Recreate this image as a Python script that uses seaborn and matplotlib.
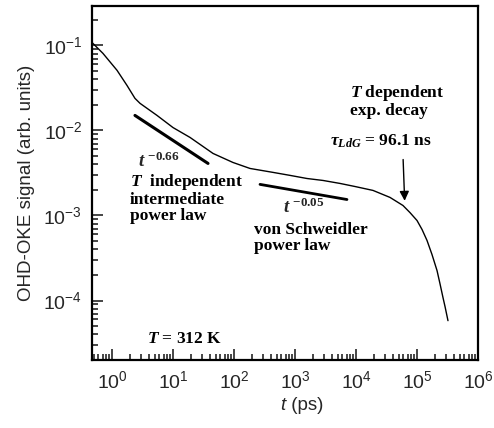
import numpy as np
import matplotlib
matplotlib.use('Agg')
import matplotlib.pyplot as plt
import seaborn as sns

# OHD-OKE decay (t in ps, signal in arb. units)
t_ps = [0.47, 0.71, 1.21, 1.76, 2.38, 2.88, 5.47, 10.0, 19.0, 45.3, 96.0, 183.0,
        436.0, 828.0, 1573.0, 2880.0, 5470.0, 9630.0, 19000.0, 36100.0, 58900.0,
        76800.0, 100000.0, 121000.0, 146000.0, 176000.0, 213000.0, 238000.0,
        267000.0, 288000.0, 322000.0]
signal = [0.108, 0.0805, 0.0508, 0.0338, 0.0238, 0.0208, 0.0150, 0.0108, 0.00827,
          0.00536, 0.00420, 0.00357, 0.00321, 0.00296, 0.00272, 0.00258, 0.00238,
          0.00219, 0.00197, 0.00163, 0.00131, 0.00108, 0.000873, 0.000684,
          0.000508, 0.000348, 0.000225, 0.000158, 0.000108, 8.5e-5, 5.8e-5]

# guide lines for the two power laws
fast_t = [2.38, 37.5]
fast_y = [0.0150, 0.00409]
vs_t = [267.0, 7110.0]
vs_y = [0.00232, 0.00154]

sns.set_style('ticks')
plt.rcParams['font.family'] = ['Liberation Sans', 'DejaVu Sans']
plt.rcParams['axes.unicode_minus'] = False
plt.rcParams['mathtext.fontset'] = 'custom'
plt.rcParams['mathtext.rm'] = 'Liberation Serif:bold'
plt.rcParams['mathtext.it'] = 'Liberation Serif:italic:bold'
plt.rcParams['mathtext.bf'] = 'Liberation Serif:bold'

fig = plt.figure(figsize=(4.94, 4.28), dpi=100)
ax = fig.add_axes([92/494, 1-360/428, 386/494, 354/428])

sns.lineplot(x=t_ps, y=signal, ax=ax, color='k', lw=1.0, sort=False, estimator=None)
sns.lineplot(x=fast_t, y=fast_y, ax=ax, color='k', lw=2.2, sort=False, estimator=None)
sns.lineplot(x=vs_t, y=vs_y, ax=ax, color='k', lw=2.0, sort=False, estimator=None)

ax.set_xscale('log')
ax.set_yscale('log')
ax.set_xlim(0.47, 1e6)
ax.set_ylim(2e-5, 0.29)
ax.set_xticks([1e0, 1e1, 1e2, 1e3, 1e4, 1e5, 1e6])
ax.set_yticks([1e-4, 1e-3, 1e-2, 1e-1])

ax.tick_params(which='both', direction='in', top=False, right=False, width=1.2)
ax.tick_params(which='major', length=8, labelsize=14)
ax.tick_params(axis='x', which='major', pad=7)
ax.tick_params(axis='y', which='major', pad=7)
ax.tick_params(which='minor', length=4)
for s in ax.spines.values():
    s.set_linewidth(1.6)
    s.set_color('k')

# x label: italic t plus upright "(ps)"
fig.text(0.577, 1-405/428, 't', fontsize=13.5, style='italic', ha='right', va='center')
fig.text(0.579, 1-405/428, ' (ps)', fontsize=13.5, ha='left', va='center')
ax.set_ylabel('OHD-OKE signal (arb. units)', fontsize=13.5, labelpad=6)

serif = dict(family='Liberation Serif', weight='bold', fontsize=12.5, color='k')
ax.text(2.67, 0.00367, '$t^{\\ \\mathrm{-0.66}}$', fontsize=13.5, va='baseline', ha='left')
ax.text(1.97, 0.00321, '$T$  independent\nintermediate\npower law', va='top', ha='left',
        linespacing=1.0, **serif)
ax.text(635, 0.00108, '$t^{\\ \\mathrm{-0.05}}$', fontsize=13.5, va='baseline', ha='left')
ax.text(213, 0.00083, 'von Schweidler\npower law', va='top', ha='left', linespacing=1.0, **serif)
ax.text(7980, 0.0357, '$T$ dependent\nexp. decay', va='top', ha='left', linespacing=1.0, **serif)
ax.text(3750, 0.0095, '$\\tau_{LdG}$ = 96.1 ns', va='top', ha='left', **serif)
ax.text(3.75, 3.2e-5, '$T$ = 312 K', va='baseline', ha='left', **serif)

ax.annotate('', xy=(6.3e4, 1.38e-3), xytext=(5.9e4, 4.9e-3),
            arrowprops=dict(arrowstyle='-|>', color='k', lw=1.0, mutation_scale=14))

plt.savefig('out.png', dpi=100)
